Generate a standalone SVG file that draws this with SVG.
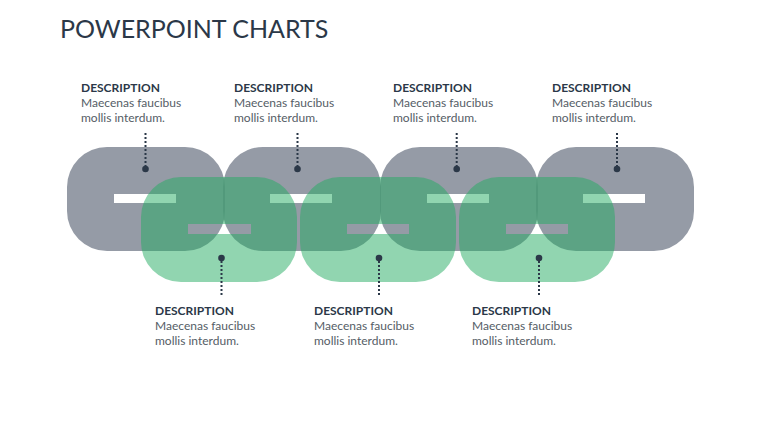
<svg xmlns="http://www.w3.org/2000/svg" width="760" height="427" viewBox="0 0 760 427">
<style>
.title{font-family:Lato,"Liberation Sans",sans-serif;font-size:25px;fill:#2b3848;}
.h{font-family:Lato,"Liberation Sans",sans-serif;font-size:12px;font-weight:bold;fill:#2b3848;}
.b{font-family:Lato,"Liberation Sans",sans-serif;font-size:12px;fill:#555d66;}
.gray{fill:#7a8290;fill-opacity:0.8;fill-rule:evenodd;}
.green{fill:#23ab61;fill-opacity:0.5;fill-rule:evenodd;}
.dl{stroke:#2b3848;stroke-width:2;stroke-dasharray:2 2;fill:none;}
.dot{fill:#2b3848;}
</style>
<rect width="760" height="427" fill="#ffffff"/>
<text class="title" x="60" y="38">POWERPOINT CHARTS</text>

<g id="gray1"><path class="gray" d="M107,147 H185 A40,40 0 0 1 225,187 V211 A40,40 0 0 1 185,251 H107 A40,40 0 0 1 67,211 V187 A40,40 0 0 1 107,147 Z M114,194 V203 H176 V194 Z"/></g>
<g id="gray2"><path class="gray" d="M263,147 H341 A40,40 0 0 1 381,187 V211 A40,40 0 0 1 341,251 H263 A40,40 0 0 1 223,211 V187 A40,40 0 0 1 263,147 Z M270,194 V203 H332 V194 Z"/></g>
<g id="gray3"><path class="gray" d="M420,147 H498 A40,40 0 0 1 538,187 V211 A40,40 0 0 1 498,251 H420 A40,40 0 0 1 380,211 V187 A40,40 0 0 1 420,147 Z M427,194 V203 H489 V194 Z"/></g>
<g id="gray4"><path class="gray" d="M576,147 H654 A40,40 0 0 1 694,187 V211 A40,40 0 0 1 654,251 H576 A40,40 0 0 1 536,211 V187 A40,40 0 0 1 576,147 Z M583,194 V203 H645 V194 Z"/></g>

<g id="green1"><path class="green" d="M181,177 H257 A40,40 0 0 1 297,217 V242 A40,40 0 0 1 257,282 H181 A40,40 0 0 1 141,242 V217 A40,40 0 0 1 181,177 Z M188,224 V234 H251 V224 Z"/></g>
<g id="green2"><path class="green" d="M340,177 H416 A40,40 0 0 1 456,217 V242 A40,40 0 0 1 416,282 H340 A40,40 0 0 1 300,242 V217 A40,40 0 0 1 340,177 Z M347,224 V234 H409 V224 Z"/></g>
<g id="green3"><path class="green" d="M499,177 H575 A40,40 0 0 1 615,217 V242 A40,40 0 0 1 575,282 H499 A40,40 0 0 1 459,242 V217 A40,40 0 0 1 499,177 Z M506,224 V234 H568 V224 Z"/></g>

<g id="connectors">
<line class="dl" x1="145.5" y1="133" x2="145.5" y2="166"/><circle class="dot" cx="145.5" cy="169" r="3.3"/>
<line class="dl" x1="297.5" y1="133" x2="297.5" y2="166"/><circle class="dot" cx="297.5" cy="169" r="3.3"/>
<line class="dl" x1="456.7" y1="133" x2="456.7" y2="166"/><circle class="dot" cx="456.7" cy="169" r="3.3"/>
<line class="dl" x1="617" y1="133" x2="617" y2="166"/><circle class="dot" cx="617" cy="169" r="3.3"/>
<line class="dl" x1="221.5" y1="261" x2="221.5" y2="295"/><circle class="dot" cx="221.5" cy="258" r="3.3"/>
<line class="dl" x1="379" y1="261" x2="379" y2="295"/><circle class="dot" cx="379" cy="258" r="3.3"/>
<line class="dl" x1="539" y1="261" x2="539" y2="295"/><circle class="dot" cx="539" cy="258" r="3.3"/>
</g>

<g id="label1"><text class="h" x="81" y="92">DESCRIPTION</text><text class="b" x="81" y="107">Maecenas faucibus</text><text class="b" x="81" y="122">mollis interdum.</text></g>
<g id="label2"><text class="h" x="234" y="92">DESCRIPTION</text><text class="b" x="234" y="107">Maecenas faucibus</text><text class="b" x="234" y="122">mollis interdum.</text></g>
<g id="label3"><text class="h" x="393" y="92">DESCRIPTION</text><text class="b" x="393" y="107">Maecenas faucibus</text><text class="b" x="393" y="122">mollis interdum.</text></g>
<g id="label4"><text class="h" x="552" y="92">DESCRIPTION</text><text class="b" x="552" y="107">Maecenas faucibus</text><text class="b" x="552" y="122">mollis interdum.</text></g>
<g id="label5"><text class="h" x="155" y="315">DESCRIPTION</text><text class="b" x="155" y="330">Maecenas faucibus</text><text class="b" x="155" y="345">mollis interdum.</text></g>
<g id="label6"><text class="h" x="314" y="315">DESCRIPTION</text><text class="b" x="314" y="330">Maecenas faucibus</text><text class="b" x="314" y="345">mollis interdum.</text></g>
<g id="label7"><text class="h" x="472" y="315">DESCRIPTION</text><text class="b" x="472" y="330">Maecenas faucibus</text><text class="b" x="472" y="345">mollis interdum.</text></g>
</svg>
